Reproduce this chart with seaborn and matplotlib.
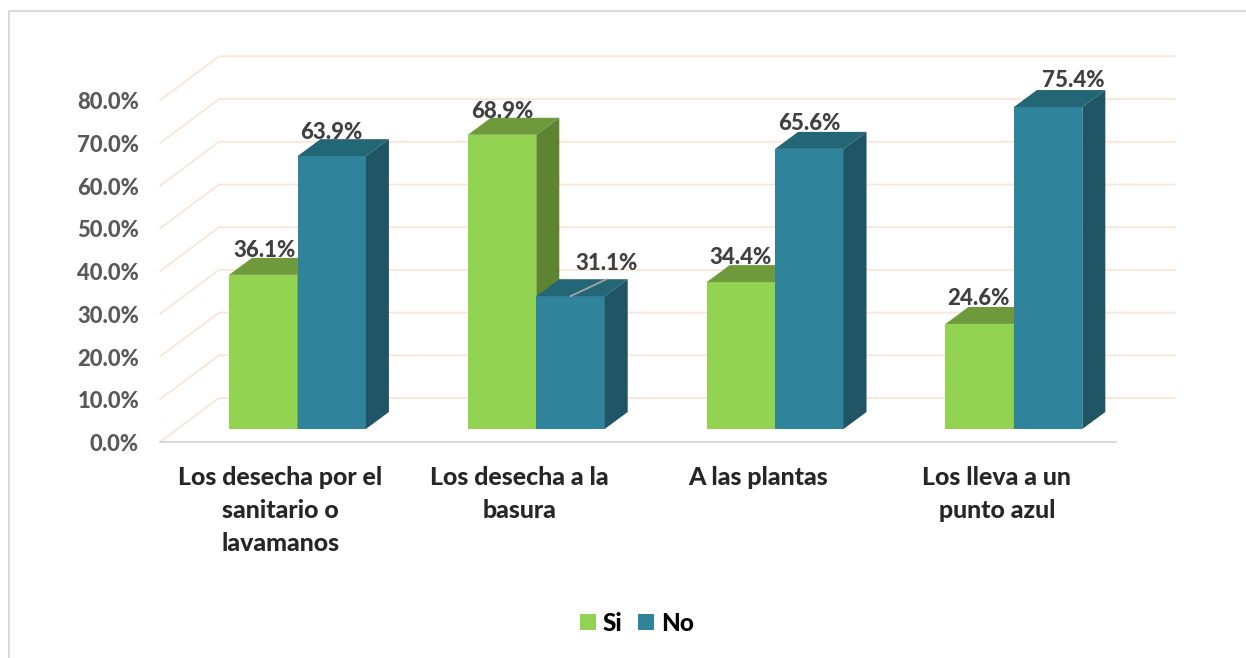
import matplotlib
matplotlib.use("Agg")
import matplotlib.pyplot as plt
from matplotlib.patches import Polygon, Rectangle
from matplotlib.transforms import Affine2D
from matplotlib.lines import Line2D
import pandas as pd
import seaborn as sns

categories = ["Los desecha por el sanitario o lavamanos", "Los desecha a la basura",
              "A las plantas", "Los lleva a un punto azul"]
tick_labels = ["Los desecha por el\nsanitario o\nlavamanos", "Los desecha a la\nbasura",
               "A las plantas", "Los lleva a un\npunto azul"]
si_values = [36.1, 68.9, 34.4, 24.6]
no_values = [63.9, 31.1, 65.6, 75.4]
series_names = ["Si", "No"]
y_ticks = [0, 10, 20, 30, 40, 50, 60, 70, 80]

W, H = 1246, 658
DPI = 100
sns.set_theme(style="white")
plt.rcParams["font.family"] = ["Lato", "DejaVu Sans"]
WEIGHT = 900
plt.rcParams["font.weight"] = WEIGHT

FRONT = {"Si": "#92D351", "No": "#2F849B"}
TOP = {"Si": "#6F9A3B", "No": "#236676"}
SIDE = {"Si": "#5E8430", "No": "#1F5565"}
GRID = "#FBE5D6"
FLOOR = "#D9D9D9"
FS_TICK = 15.8
FS_DATA = 16.0
FS_CAT = 17.9
FS_LEG = 17.5

fig = plt.figure(figsize=(W / DPI, H / DPI), dpi=DPI, facecolor="white")
# axes spans the front plane of the 3D box, in pixels of the picture
L, R, T, B = 160, 1116, 56, 442
ax = fig.add_axes([L / W, 1 - B / H, (R - L) / W, (B - T) / H])

PX_X = 238.8   # pixels per category
PX_Y = 4.27    # pixels per percentage point
x_left = (L - 297.5) / PX_X
x_right = (R - 297.5) / PX_X
y_bottom = -(B - 429) / PX_Y
y_top = (429 - T) / PX_Y

df = pd.DataFrame({
    "categoria": categories * 2,
    "serie": [series_names[0]] * 4 + [series_names[1]] * 4,
    "valor": si_values + no_values,
})
sns.barplot(data=df, x="categoria", y="valor", hue="serie", order=categories,
            hue_order=series_names, palette=FRONT, width=0.573, gap=0,
            saturation=1, linewidth=0, legend=False, ax=ax, zorder=3)
ax.set_xlim(x_left, x_right)
ax.set_ylim(y_bottom, y_top)
ax.set_xlabel("")
ax.set_ylabel("")
for s in ax.spines.values():
    s.set_visible(False)

# wall and floor grid of the 3D box
box_dx = 59 / PX_X
box_dy = 44 / PX_Y
for v in y_ticks:
    ax.plot([x_left, x_left + box_dx, x_right + box_dx],
            [y_bottom + v, y_bottom + v + box_dy, y_bottom + v + box_dy],
            color=GRID, lw=1.3, clip_on=False, zorder=1, solid_joinstyle="miter")
ax.plot([x_left, x_right], [y_bottom, y_bottom], color=FLOOR, lw=1.5, clip_on=False, zorder=1)

# depth faces of every bar
dep_x = 23 / PX_X
dep_y = 17 / PX_Y
bars = {}
for cont, name in zip(ax.containers, series_names):
    z = 3 if name == "Si" else 4
    bars[name] = list(cont.patches)
    for p in cont.patches:
        p.set_zorder(z)
        x0, x1, h = p.get_x(), p.get_x() + p.get_width(), p.get_height()
        ax.add_patch(Polygon([(x0, h), (x1, h), (x1 + dep_x, h + dep_y), (x0 + dep_x, h + dep_y)],
                             closed=True, fc=TOP[name], ec="none", zorder=z, clip_on=False))
        ax.add_patch(Polygon([(x1, 0), (x1 + dep_x, dep_y), (x1 + dep_x, h + dep_y), (x1, h)],
                             closed=True, fc=SIDE[name], ec="none", zorder=z, clip_on=False))

# data labels: offsets in pixels from the front-top centre of each bar
offsets = {"Si": [(1, 24), (0, 23), (0, 25), (-1, 25)],
           "No": [(0, 24), (36, 33), (0, 25), (25, 27)]}
for name in series_names:
    for p, off in zip(bars[name], offsets[name]):
        cx, h = p.get_x() + p.get_width() / 2, p.get_height()
        ax.annotate(f"{h:.1f}%", (cx, h), xytext=off, textcoords="offset pixels",
                    ha="center", va="center", fontsize=FS_DATA, fontweight=WEIGHT,
                    color="#404040", zorder=6, annotation_clip=False)

# leader line of the 31.1% label
p = bars["No"][1]
ax.annotate("", (p.get_x() + p.get_width() / 2, p.get_height()), xytext=(36, 17),
            textcoords="offset pixels", zorder=6, annotation_clip=False,
            arrowprops=dict(arrowstyle="-", color="#A6A6A6", lw=1.3, shrinkA=0, shrinkB=0))

# axis tick labels
ax.set_yticks(y_ticks, [f"{v:.1f}%" for v in y_ticks])
ax.tick_params(axis="y", length=0, pad=21 * 72 / DPI, labelsize=FS_TICK, labelcolor="#595959")
for lab in ax.get_yticklabels():
    lab.set_transform(lab.get_transform() + Affine2D().translate(0, -13.5))
    lab.set_fontweight(WEIGHT)
ax.set_xticks(range(4), tick_labels)
ax.tick_params(axis="x", length=0, pad=24 * 72 / DPI, labelsize=FS_CAT, labelcolor="#262626")
for lab in ax.get_xticklabels():
    lab.set_transform(lab.get_transform() + Affine2D().translate(-17, 0))
    lab.set_linespacing(1.53)
    lab.set_fontweight(WEIGHT)

handles = [Rectangle((0, 0), 1, 1, fc=FRONT[n], ec="none") for n in series_names]
fig.legend(handles, series_names, loc="center", bbox_to_anchor=(637 / W, 1 - 623.5 / H),
           ncol=2, frameon=False, handlelength=0.64, handleheight=0.64,
           handletextpad=0.28, columnspacing=0.66, labelcolor="black",
           prop=dict(family="Lato", weight=WEIGHT, size=FS_LEG))

# chart frame: only the top and left edges show in the picture
fig.add_artist(Line2D([8.5 / W, 8.5 / W, 1], [0, 1 - 10.5 / H, 1 - 10.5 / H],
                      transform=fig.transFigure, color=FLOOR, lw=1.4))
fig.savefig("out.png", dpi=DPI, facecolor="white")
